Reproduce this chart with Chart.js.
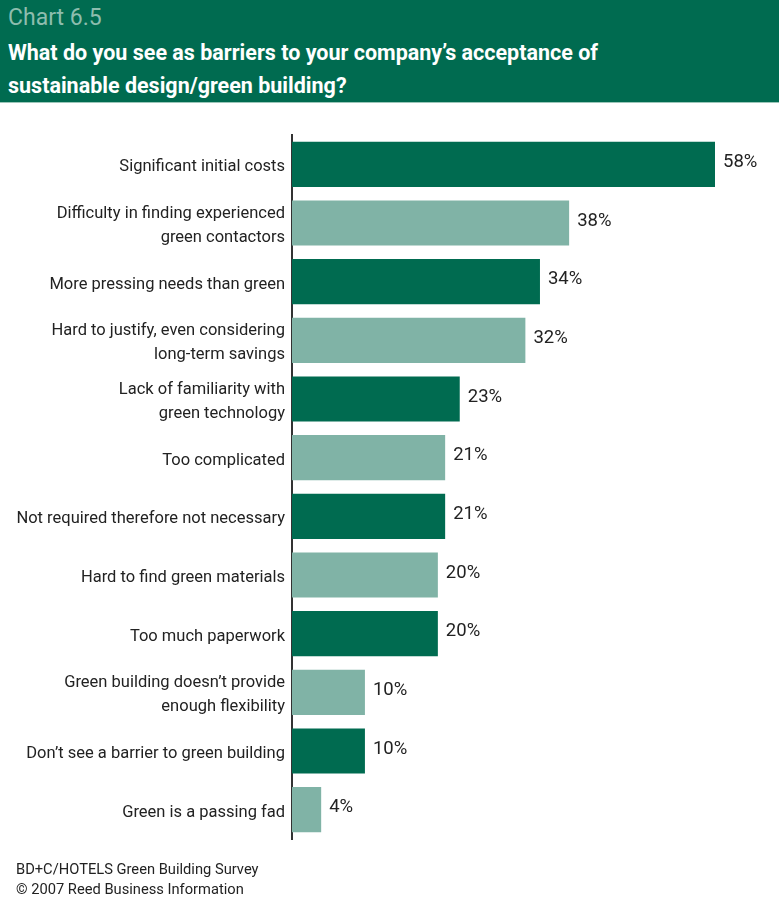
<!DOCTYPE html>
<html>
<head>
<meta charset="utf-8">
<script src="https://cdn.jsdelivr.net/npm/chart.js@4/dist/chart.umd.min.js"></script>
<style>
  body { margin: 0; background: #fff; font-family: "Roboto", sans-serif; }
  #wrap { position: relative; width: 779px; height: 918px; overflow: hidden; }
  #header { position: absolute; left: 0; top: 0; width: 779px; height: 102px; background: #006b50; border-bottom: 1px solid #9cc6b9; z-index: 2; }
  #num { position: absolute; left: 8px; top: 4px; font-size: 23px; color: #8dbdae; }
  #title { position: absolute; left: 8px; top: 36px; font-size: 21.5px; line-height: 33px; color: #fff; font-weight: bold; }
  #source { position: absolute; left: 16px; top: 859px; font-size: 14.7px; line-height: 20px; color: #222; z-index: 2; }
  canvas { position: absolute; left: 0; top: 0; }
</style>
</head>
<body>
<div id="wrap">
  <div id="header">
    <div id="num">Chart 6.5</div>
    <div id="title">What do you see as barriers to your company’s acceptance of<br>sustainable design/green building?</div>
  </div>
  <canvas id="myBarChart" width="779" height="918"></canvas>
  <div id="source">BD+C/HOTELS Green Building Survey<br>© 2007 Reed Business Information</div>
</div>
<script>
// Datos del gráfico
const categorias = [
    'Significant initial costs',
    ['Difficulty in finding experienced', 'green contactors'],
    'More pressing needs than green',
    ['Hard to justify, even considering', 'long-term savings'],
    ['Lack of familiarity with', 'green technology'],
    'Too complicated',
    'Not required therefore not necessary',
    'Hard to find green materials',
    'Too much paperwork',
    ['Green building doesn’t provide', 'enough flexibility'],
    'Don’t see a barrier to green building',
    'Green is a passing fad'
];
const valores = [58, 38, 34, 32, 23, 21, 21, 20, 20, 10, 10, 4];

const verdeOscuro = '#006b50';
const verdeClaro = '#80b3a6';
const colores = valores.map((v, i) => i % 2 === 0 ? verdeOscuro : verdeClaro);

// Plugin para las etiquetas de porcentaje
const etiquetasPlugin = {
    id: 'etiquetas',
    afterDatasetsDraw(chart) {
        const ctx = chart.ctx;
        const meta = chart.getDatasetMeta(0);
        ctx.save();
        ctx.font = '18.5px Roboto, sans-serif';
        ctx.fillStyle = '#222';
        ctx.textBaseline = 'middle';
        ctx.textAlign = 'left';
        meta.data.forEach((bar, i) => {
            ctx.fillText(valores[i] + '%', bar.x + 8, bar.y - 2);
        });
        ctx.restore();
    }
};

const ctxBar = document.getElementById('myBarChart').getContext('2d');
const barChart = new Chart(ctxBar, {
    type: 'bar',
    data: {
        labels: categorias,
        datasets: [{
            data: valores,
            backgroundColor: colores,
            borderWidth: 0,
            barPercentage: 0.77,
            categoryPercentage: 1
        }]
    },
    options: {
        indexAxis: 'y',
        responsive: false,
        animation: false,
        layout: { padding: { top: 135, bottom: 79, right: 64, left: 0 } },
        plugins: {
            legend: { display: false },
            tooltip: { enabled: false }
        },
        scales: {
            x: { display: false, min: 0, max: 58 },
            y: {
                afterFit: (scale) => { scale.width = 292; },
                grid: { display: false, drawTicks: false },
                border: { display: true, color: '#333', width: 2 },
                ticks: {
                    color: '#222',
                    padding: 7,
                    labelOffset: 3,
                    font: { family: 'Roboto, sans-serif', size: 16.5, lineHeight: 1.45 }
                }
            }
        }
    },
    plugins: [etiquetasPlugin]
});
</script>
</body>
</html>
